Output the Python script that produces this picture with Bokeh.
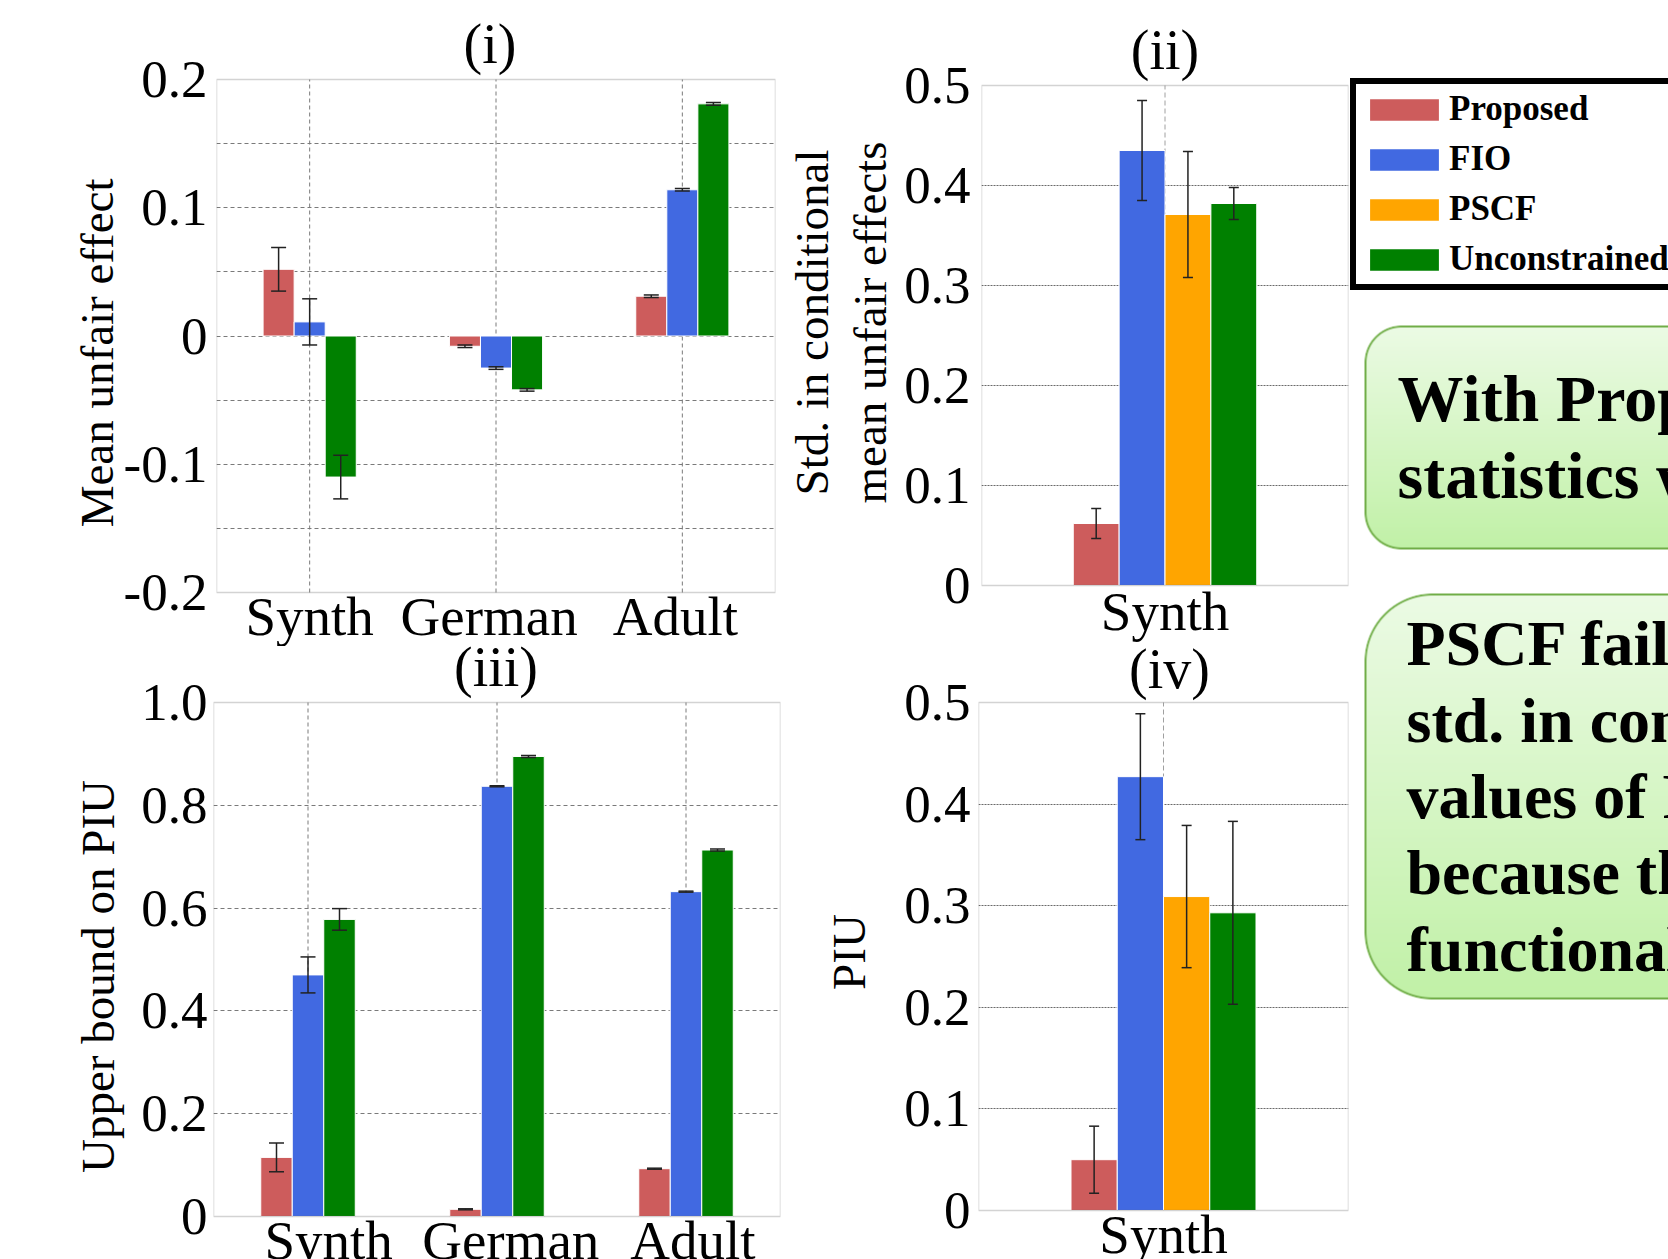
import numpy as np
from bokeh.plotting import figure
from bokeh.models import (Range1d, FixedTicker, Label, Legend, LegendItem,
                          Whisker, TeeHead, ColumnDataSource, BoxAnnotation)
from bokeh.layouts import row, column
from bokeh.embed import file_html
from bokeh.resources import INLINE

# ---------------- data ----------------
methods = ["Proposed", "FIO", "PSCF", "Unconstrained"]
colors = ["#CD5C5C", "#4169E1", "#FFA500", "#008000"]
datasets = ["Synth", "German", "Adult"]
synth_only = ["Synth"]

# (i) Mean unfair effect (no PSCF)
mean_proposed = [0.052, -0.008, 0.031]
mean_proposed_err = [0.017, 0.001, 0.001]
mean_fio = [0.011, -0.025, 0.114]
mean_fio_err = [0.018, 0.001, 0.001]
mean_unconstrained = [-0.110, -0.042, 0.181]
mean_unconstrained_err = [0.017, 0.001, 0.001]

# (ii) Std. in conditional mean unfair effects, Synth (Proposed, FIO, PSCF, Unconstrained)
std_synth = [0.062, 0.435, 0.371, 0.382]
std_synth_err = [0.015, 0.050, 0.063, 0.016]

# (iii) Upper bound on PIU (no PSCF)
ub_proposed = [0.115, 0.014, 0.093]
ub_proposed_err = [0.028, 0.001, 0.001]
ub_fio = [0.470, 0.837, 0.632]
ub_fio_err = [0.035, 0.001, 0.001]
ub_unconstrained = [0.578, 0.895, 0.713]
ub_unconstrained_err = [0.021, 0.002, 0.002]

# (iv) PIU, Synth
piu_synth = [0.050, 0.427, 0.309, 0.293]
piu_synth_err = [0.033, 0.062, 0.070, 0.090]

FONT = "Liberation Serif"
TICK_FS = 53
XTICK_FS = 55
LABEL_FS = 47
TITLE_FS = 56
ERR_COLOR = "#222222"
NB = "\u00a0"


def make_fig(width, height, mbl, mbr, xr, yr, frame_px, canvas_px, xstand):
    """frame_px: page rows (top, bottom) of the visible plot box; canvas_px: page rows of the canvas."""
    (v0, v1), (f0, f1), (c0, c1) = yr, frame_px, canvas_px
    k = (f1 - f0) / (v1 - v0)
    ys = v0 - (c1 - f1) / k
    ye = v1 + (f0 - c0) / k
    p = figure(width=width, height=height, x_range=Range1d(*xr), y_range=Range1d(ys, ye),
               output_backend="svg", toolbar_location=None,
               min_border_left=mbl, min_border_right=mbr, min_border_top=0, min_border_bottom=0)
    p.frame_align = False
    p.outline_line_color = None
    p.border_fill_color = "white"
    p.background_fill_color = "white"
    p.xgrid.visible = False
    for ax in p.axis:
        ax.axis_line_color = None
        ax.major_tick_line_color = None
        ax.minor_tick_line_color = None
        ax.major_tick_out = 0
        ax.major_tick_in = 0
        ax.major_label_text_font = FONT
        ax.major_label_text_font_size = f"{TICK_FS}px"
        ax.major_label_text_color = "black"
        ax.axis_label_text_font = FONT
        ax.axis_label_text_font_size = f"{LABEL_FS}px"
        ax.axis_label_text_font_style = "normal"
        ax.axis_label_text_color = "black"
    p.xaxis.major_label_text_font_size = f"{XTICK_FS}px"
    p.xaxis.fixed_location = v0
    p.xaxis.major_label_standoff = xstand
    p.yaxis.bounds = (v0, v1)
    p.add_layout(BoxAnnotation(left=xr[0], right=xr[1], bottom=v0, top=v1, fill_alpha=0,
                               line_color="#6e6e6e", line_width=1.5, level="overlay"))
    p._meta = dict(canvas_bottom=c1, frame_w=width - mbl - mbr, v0=v0, v1=v1)
    return p


def add_title(p, text, baseline_px, dx=0):
    m = p._meta
    bottom_px = baseline_px + 0.216 * TITLE_FS
    p.add_layout(Label(x=m["frame_w"] / 2 + dx, y=m["canvas_bottom"] - bottom_px,
                       x_units="screen", y_units="screen", text=text, text_font=FONT,
                       text_font_size=f"{TITLE_FS}px", text_align="center",
                       text_baseline="bottom", text_color="black"))


def add_vgrid(p, xs, color, dash):
    m = p._meta
    p.segment(x0=list(xs), y0=[m["v0"]] * len(xs), x1=list(xs), y1=[m["v1"]] * len(xs),
              line_color=color, line_dash=dash, line_width=1)


def add_bars(p, xs, vals, errs, color, width, cap):
    src = ColumnDataSource(dict(x=list(xs), top=list(vals),
                                upper=[v + e for v, e in zip(vals, errs)],
                                lower=[v - e for v, e in zip(vals, errs)]))
    p.vbar(x="x", top="top", bottom=0, width=width, source=src,
           fill_color=color, line_color="white", line_width=1)
    p.add_layout(Whisker(base="x", upper="upper", lower="lower", source=src, level="overlay",
                         line_color=ERR_COLOR, line_width=1.5,
                         upper_head=TeeHead(size=cap, line_color=ERR_COLOR, line_width=1.5),
                         lower_head=TeeHead(size=cap, line_color=ERR_COLOR, line_width=1.5)))


def style_ygrid(p, ticks, color, dash):
    p.ygrid.ticker = FixedTicker(ticks=ticks)
    p.ygrid.grid_line_color = color
    p.ygrid.grid_line_dash = dash
    p.ygrid.grid_line_width = 1


cat_idx = np.arange(len(datasets))
w3 = 1.0 / 6.0
w4 = 0.2
offs4 = [-0.3, -0.1, 0.1, 0.3]
B1, B2, PAGE_H = 646, 644, 1259

# ---------------- (i) ----------------
p1 = make_fig(782, B1, 216, 7, (-0.5, 2.5), (-0.2, 0.2), (79, 592), (0, B1), -7)
style_ygrid(p1, [-0.15, -0.1, -0.05, 0, 0.05, 0.1, 0.15], "#7a7a7a", "4 3")
add_vgrid(p1, cat_idx, "#7a7a7a", "4 3")
add_bars(p1, cat_idx - w3, mean_proposed, mean_proposed_err, colors[0], w3, 15)
add_bars(p1, cat_idx, mean_fio, mean_fio_err, colors[1], w3, 15)
add_bars(p1, cat_idx + w3, mean_unconstrained, mean_unconstrained_err, colors[3], w3, 15)
p1.yaxis.ticker = FixedTicker(ticks=[-0.2, -0.1, 0, 0.1, 0.2])
p1.yaxis.major_label_overrides = {-0.2: "-0.2", -0.1: "-0.1", 0: "0", 0.1: "0.1", 0.2: "0.2"}
p1.yaxis.major_label_standoff = 9
p1.yaxis.axis_label = "Mean unfair effect" + NB * 5
p1.yaxis.axis_label_standoff = -2
p1.xaxis.ticker = FixedTicker(ticks=list(cat_idx))
p1.xaxis.major_label_overrides = {0: datasets[0], 1: datasets[1] + NB, 2: datasets[2] + NB}
add_title(p1, "(i)", 62, dx=-6)

# ---------------- (ii) ----------------
p2 = make_fig(567, B2, 199, 1, (-0.8, 0.8), (0, 0.5), (85, 585), (0, B2), -5)
style_ygrid(p2, [0.1, 0.2, 0.3, 0.4], "#6a6a6a", "2 1")
add_vgrid(p2, [0], "#a0a0a0", "5 3")
for k in range(4):
    add_bars(p2, [offs4[k]], [std_synth[k]], [std_synth_err[k]], colors[k], w4, 10)
p2.yaxis.ticker = FixedTicker(ticks=[0, 0.1, 0.2, 0.3, 0.4, 0.5])
p2.yaxis.major_label_overrides = {0: "0", 0.1: "0.1", 0.2: "0.2", 0.3: "0.3", 0.4: "0.4", 0.5: "0.5"}
p2.yaxis.major_label_standoff = 11
p2.yaxis.axis_label = "Std. in conditional\nmean unfair effects"
p2.yaxis.axis_label_text_line_height = 1.12
p2.yaxis.axis_label_standoff = 5
p2.xaxis.ticker = FixedTicker(ticks=[0])
p2.xaxis.major_label_overrides = {0: synth_only[0]}
add_title(p2, "(ii)", 68)

# ---------------- (iii) ----------------
p3 = make_fig(782, PAGE_H - B1, 213, 2, (-0.5, 2.5), (0, 1.0), (702, 1216), (B1, PAGE_H), -7)
style_ygrid(p3, [0.2, 0.4, 0.6, 0.8], "#7a7a7a", "4 3")
add_vgrid(p3, cat_idx, "#7a7a7a", "4 3")
add_bars(p3, cat_idx - w3, ub_proposed, ub_proposed_err, colors[0], w3, 15)
add_bars(p3, cat_idx, ub_fio, ub_fio_err, colors[1], w3, 15)
add_bars(p3, cat_idx + w3, ub_unconstrained, ub_unconstrained_err, colors[3], w3, 15)
p3.yaxis.ticker = FixedTicker(ticks=[0, 0.2, 0.4, 0.6, 0.8, 1.0])
p3.yaxis.major_label_overrides = {0: "0", 0.2: "0.2", 0.4: "0.4", 0.6: "0.6", 0.8: "0.8", 1.0: "1.0"}
p3.yaxis.major_label_standoff = 6
p3.yaxis.axis_label = "Upper bound on PIU" + NB * 4
p3.yaxis.axis_label_standoff = 14
p3.xaxis.ticker = FixedTicker(ticks=list(cat_idx))
p3.xaxis.major_label_overrides = {0: NB * 3 + datasets[0], 1: NB * 2 + datasets[1], 2: NB + datasets[2]}
add_title(p3, "(iii)", 685, dx=-1)

# ---------------- (iv) ----------------
p4 = make_fig(567, PAGE_H - B2, 196, 1, (-0.8, 0.8), (0, 0.5), (702, 1210), (B2, PAGE_H), -7)
style_ygrid(p4, [0.1, 0.2, 0.3, 0.4], "#6a6a6a", "2 1")
add_vgrid(p4, [0], "#a0a0a0", "5 3")
for k in range(4):
    add_bars(p4, [offs4[k]], [piu_synth[k]], [piu_synth_err[k]], colors[k], w4, 10)
p4.yaxis.ticker = FixedTicker(ticks=[0, 0.1, 0.2, 0.3, 0.4, 0.5])
p4.yaxis.major_label_overrides = {0: "0", 0.1: "0.1", 0.2: "0.2", 0.3: "0.3", 0.4: "0.4", 0.5: "0.5"}
p4.yaxis.major_label_standoff = 8
p4.yaxis.axis_label = "PIU"
p4.yaxis.axis_label_standoff = 26
p4.xaxis.ticker = FixedTicker(ticks=[0])
p4.xaxis.major_label_overrides = {0: synth_only[0]}
add_title(p4, "(iv)", 687, dx=6)

# ---------------- right column: legend + callouts ----------------
X0, X1 = 1349, 1668
H = PAGE_H
pr = figure(width=X1 - X0, height=H, x_range=Range1d(X0, X1), y_range=Range1d(0, H),
            output_backend="svg", toolbar_location=None, x_axis_type=None, y_axis_type=None,
            min_border=0)
pr.frame_align = False
pr.min_border_left = pr.min_border_right = pr.min_border_top = pr.min_border_bottom = 0
pr.outline_line_color = None
pr.grid.visible = False
pr.border_fill_color = "white"


def fy(y):
    return H - y  # page-pixel y -> data y


def rounded_box_image(x0, y0, y1, r, top_rgb, bot_rgb, edge_rgb, edge_w=2.0):
    x_right = 1900.0
    ix0, ix1 = int(x0) - 2, X1 + 2
    iy0, iy1 = int(y0) - 2, int(y1) + 3
    W, Hh = ix1 - ix0, iy1 - iy0
    px = np.arange(ix0, ix1) + 0.5
    py = np.arange(iy0, iy1) + 0.5
    PX, PY = np.meshgrid(px, py)
    cx, cy = (x0 + x_right) / 2, (y0 + y1) / 2
    hx, hy = (x_right - x0) / 2, (y1 - y0) / 2
    qx = np.abs(PX - cx) - (hx - r)
    qy = np.abs(PY - cy) - (hy - r)
    d = np.hypot(np.maximum(qx, 0), np.maximum(qy, 0)) + np.minimum(np.maximum(qx, qy), 0) - r
    alpha = np.clip(0.5 - d, 0, 1)
    t = np.clip((PY - y0) / (y1 - y0), 0, 1)[..., None]
    col = np.array(top_rgb, float) * (1 - t) + np.array(bot_rgb, float) * t
    cov = np.clip(edge_w / 2 + 0.5 - np.abs(d + edge_w / 2), 0, 1)[..., None]
    col = col * (1 - cov) + np.array(edge_rgb, float) * cov
    img = np.zeros((Hh, W), dtype=np.uint32)
    view = img.view(dtype=np.uint8).reshape((Hh, W, 4))
    view[..., 0] = col[..., 0].astype(np.uint8)
    view[..., 1] = col[..., 1].astype(np.uint8)
    view[..., 2] = col[..., 2].astype(np.uint8)
    view[..., 3] = (alpha * 255).astype(np.uint8)
    img = np.flipud(img).copy()
    pr.image_rgba(image=[img], x=ix0, y=fy(iy1), dw=W, dh=Hh)


GTOP = (236, 251, 229)
GBOT = (193, 241, 167)
GEDGE = (112, 173, 71)
rounded_box_image(1364, 325, 549, 37, GTOP, GBOT, GEDGE)
rounded_box_image(1364, 593, 999, 68, GTOP, GBOT, GEDGE)

box1_lines = ["With Proposed, the", "statistics were"]
box2_lines = ["PSCF fails to reduce", "std. in conditional", "values of PIU", "because the", "functional form"]
B1FS, B2FS = 66, 64
for i, t in enumerate(box1_lines):
    pr.add_layout(Label(x=1397, y=fy(420 + 77 * i + 0.216 * B1FS), text=t, text_font=FONT,
                        text_font_style="bold", text_font_size=f"{B1FS}px", text_color="black",
                        text_baseline="bottom"))
for i, t in enumerate(box2_lines):
    pr.add_layout(Label(x=1406, y=fy(665 + 76.3 * i + 0.216 * B2FS), text=t, text_font=FONT,
                        text_font_style="bold", text_font_size=f"{B2FS}px", text_color="black",
                        text_baseline="bottom"))

dummies = [pr.vbar(x=[X0 + 100], top=[0], bottom=0, width=1, fill_color=c, line_color=c,
                   line_alpha=0, fill_alpha=1) for c in colors]
legend = Legend(items=[LegendItem(label=m, renderers=[r]) for m, r in zip(methods, dummies)],
                location=(1, H - 290), orientation="vertical",
                border_line_color="black", border_line_width=6, border_line_alpha=1,
                background_fill_color="white", background_fill_alpha=1,
                label_text_font=FONT, label_text_font_style="bold", label_text_font_size="35px",
                label_text_color="black", glyph_width=86, glyph_height=27,
                label_standoff=2, spacing=10, padding=5, label_height=36, margin=0)
pr.add_layout(legend, "center")

layout = row(column(p1, p3), column(p2, p4), pr)
open("out.html", "w").write(file_html(layout, INLINE))
